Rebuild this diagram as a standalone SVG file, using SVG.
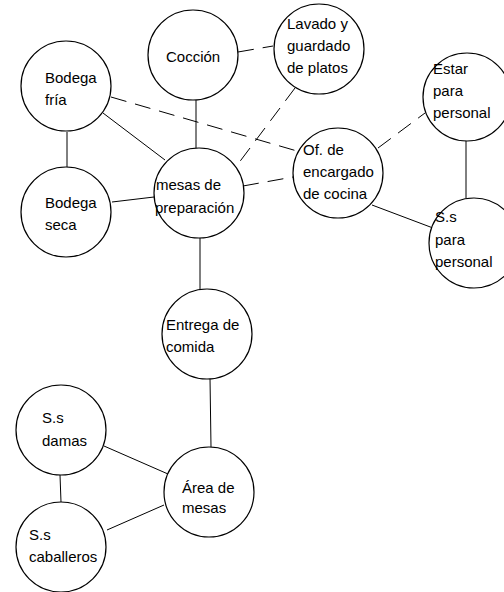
<svg xmlns="http://www.w3.org/2000/svg" width="504" height="592" viewBox="0 0 504 592">
<style>
.n{fill:#fff;stroke:#000;stroke-width:1.2}
.c{stroke:#000;stroke-width:1;fill:none}
.d{stroke-dasharray:16 9}
text{font-family:"Liberation Sans",Arial,sans-serif;font-size:15px;fill:#000}
</style>
<rect width="504" height="592" fill="#fff"/>
<g id="connectors">
<line class="c d" x1="238" y1="52" x2="273" y2="46"/>
<line class="c" x1="103" y1="113" x2="165" y2="160"/>
<line class="c" x1="67" y1="132" x2="67" y2="167"/>
<line class="c d" x1="111" y1="97" x2="297" y2="151"/>
<line class="c" x1="196" y1="100" x2="196" y2="149"/>
<line class="c d" x1="295" y1="88" x2="235" y2="168"/>
<line class="c d" x1="243" y1="186" x2="293" y2="177"/>
<line class="c" x1="112" y1="202" x2="154" y2="197"/>
<line class="c d" x1="378" y1="148" x2="425" y2="113"/>
<line class="c" x1="372" y1="205" x2="433" y2="228"/>
<line class="c" x1="466" y1="140" x2="466" y2="198"/>
<line class="c" x1="200" y1="238" x2="200" y2="290"/>
<line class="c" x1="210" y1="378" x2="211" y2="447"/>
<line class="c" x1="104" y1="446" x2="168" y2="474"/>
<line class="c" x1="60" y1="475" x2="61" y2="502"/>
<line class="c" x1="107" y1="530" x2="164" y2="505"/>
</g>
<g id="coccion"><circle class="n" cx="193" cy="55" r="45"/><text x="166" y="62">Cocción</text></g>
<g id="lavado"><circle class="n" cx="319" cy="49" r="45"/><text x="287" y="29">Lavado y</text><text x="287" y="51">guardado</text><text x="287" y="73">de platos</text></g>
<g id="bodega-fria"><circle class="n" cx="66" cy="86" r="45"/><text x="45" y="83">Bodega</text><text x="45" y="105">fría</text></g>
<g id="bodega-seca"><circle class="n" cx="66" cy="212" r="45"/><text x="45" y="208">Bodega</text><text x="45" y="230">seca</text></g>
<g id="mesas-preparacion"><circle class="n" cx="199" cy="193" r="45"/><text x="156" y="190">mesas de</text><text x="155" y="213">preparación</text></g>
<g id="oficina"><circle class="n" cx="338" cy="173" r="45"/><text x="303" y="155">Of. de</text><text x="303" y="177">encargado</text><text x="303" y="199">de cocina</text></g>
<g id="estar"><circle class="n" cx="467" cy="97" r="44"/><text x="433" y="74">Estar</text><text x="433" y="96">para</text><text x="433" y="118">personal</text></g>
<g id="ss-personal"><circle class="n" cx="474" cy="243" r="45"/><text x="435" y="222">S.s</text><text x="435" y="245">para</text><text x="435" y="267">personal</text></g>
<g id="entrega"><circle class="n" cx="207" cy="334" r="45"/><text x="166" y="330">Entrega de</text><text x="166" y="352">comida</text></g>
<g id="ss-damas"><circle class="n" cx="61" cy="430" r="45"/><text x="42" y="423">S.s</text><text x="42" y="446">damas</text></g>
<g id="area-mesas"><circle class="n" cx="209" cy="492" r="45"/><text x="182" y="493">Área de</text><text x="182" y="513">mesas</text></g>
<g id="ss-caballeros"><circle class="n" cx="61" cy="547" r="45"/><text x="29" y="540">S.s</text><text x="29" y="562">caballeros</text></g>
</svg>
